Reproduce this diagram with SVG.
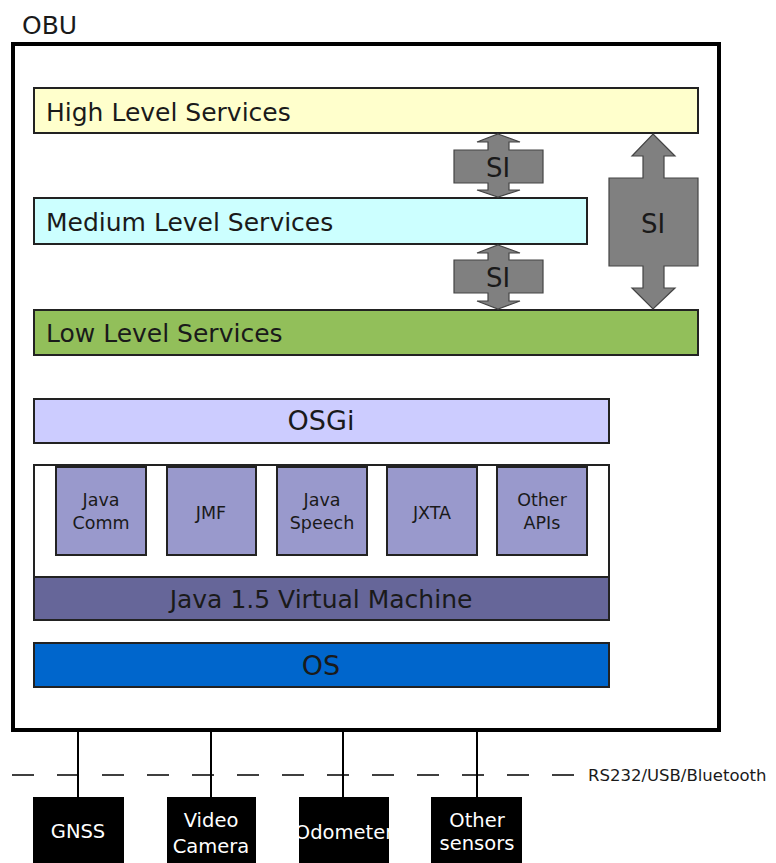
<svg xmlns="http://www.w3.org/2000/svg" width="776" height="863" viewBox="0 0 776 863">
<style>
  text { font-family: "DejaVu Sans", "Liberation Sans", sans-serif; fill: #1a1a1a; }
  .bar { stroke: #222; stroke-width: 2; }
  .api { fill: #9999cc; stroke: #222; stroke-width: 2; }
  .atxt { font-size: 17.5px; text-anchor: middle; }
  .si { fill: #808080; stroke: #444; stroke-width: 1.2; }
  .sensor { fill: #000; }
  .stxt { fill: #fff; font-size: 19.5px; text-anchor: middle; }
  .link { stroke: #000; stroke-width: 2; fill: none; }
  .big { font-size: 25px; }
  .mid { text-anchor: middle; }
</style>
<rect width="776" height="863" fill="#fff"/>
<g id="obu">
  <rect x="13" y="44" width="706" height="686" fill="#fff" stroke="#000" stroke-width="4"/>
  <text x="22" y="34" font-size="25">OBU</text>
</g>
<g id="high">
  <rect class="bar" x="34" y="88" width="664" height="45" fill="#ffffcc"/>
  <text class="big" x="46" y="121">High Level Services</text>
</g>
<g id="medium">
  <rect class="bar" x="34" y="198" width="553" height="46" fill="#ccffff"/>
  <text class="big" x="46" y="231">Medium Level Services</text>
</g>
<g id="low">
  <rect class="bar" x="34" y="310" width="664" height="45" fill="#92bf5a"/>
  <text class="big" x="46" y="342">Low Level Services</text>
</g>
<g id="si1">
  <path class="si" d="M498,134 L520,142 L509,142 L509,150 L543,150 L543,183 L509,183 L509,190 L520,190 L498,197 L477,190 L488,190 L488,183 L454,183 L454,150 L488,150 L488,142 L477,142 Z"/>
  <text class="mid" x="498" y="177" font-size="26">SI</text>
</g>
<g id="si2">
  <path class="si" d="M498,245 L520,253 L509,253 L509,260 L543,260 L543,293 L509,293 L509,301 L520,301 L498,309 L477,301 L488,301 L488,293 L454,293 L454,260 L488,260 L488,253 L477,253 Z"/>
  <text class="mid" x="498" y="287" font-size="26">SI</text>
</g>
<g id="si3">
  <path class="si" d="M653,134 L675,156 L664,156 L664,178 L698,178 L698,266 L664,266 L664,288 L675,288 L653,309 L632,288 L643,288 L643,266 L609,266 L609,178 L643,178 L643,156 L632,156 Z"/>
  <text class="mid" x="653" y="233" font-size="26">SI</text>
</g>
<g id="osgi">
  <rect class="bar" x="34" y="399" width="575" height="44" fill="#ccccff"/>
  <text class="mid" x="321" y="430" font-size="27">OSGi</text>
</g>
<g id="jvm">
  <rect class="bar" x="34" y="465" width="575" height="155" fill="#fff"/>
  <rect class="bar" x="34" y="577" width="575" height="43" fill="#666699"/>
  <text class="mid big" x="321" y="608">Java 1.5 Virtual Machine</text>
</g>
<g id="javacomm">
  <rect class="api" x="56" y="467" width="90" height="88"/>
  <text class="atxt" x="101" y="506">Java</text>
  <text class="atxt" x="101" y="529">Comm</text>
</g>
<g id="jmf">
  <rect class="api" x="167" y="467" width="89" height="88"/>
  <text class="atxt" x="211" y="519">JMF</text>
</g>
<g id="javaspeech">
  <rect class="api" x="277" y="467" width="90" height="88"/>
  <text class="atxt" x="322" y="506">Java</text>
  <text class="atxt" x="322" y="529">Speech</text>
</g>
<g id="jxta">
  <rect class="api" x="387" y="467" width="90" height="88"/>
  <text class="atxt" x="432" y="519">JXTA</text>
</g>
<g id="otherapis">
  <rect class="api" x="497" y="467" width="90" height="88"/>
  <text class="atxt" x="542" y="506">Other</text>
  <text class="atxt" x="542" y="529">APIs</text>
</g>
<g id="os">
  <rect class="bar" x="34" y="643" width="575" height="44" fill="#0066cc"/>
  <text class="mid" x="321" y="675" font-size="27">OS</text>
</g>
<g id="connectors">
  <line class="link" x1="78" y1="731" x2="78" y2="797"/>
  <line class="link" x1="211" y1="731" x2="211" y2="797"/>
  <line class="link" x1="343" y1="731" x2="343" y2="797"/>
  <line class="link" x1="477" y1="731" x2="477" y2="797"/>
  <line x1="12" y1="775" x2="575" y2="775" stroke="#000" stroke-width="1.5" stroke-dasharray="22,23"/>
  <text x="588" y="781" font-size="16.5">RS232/USB/Bluetooth</text>
</g>
<g id="gnss">
  <rect class="sensor" x="33" y="797" width="91" height="66"/>
  <text class="stxt" x="78" y="838">GNSS</text>
</g>
<g id="camera">
  <rect class="sensor" x="167" y="797" width="89" height="66"/>
  <text class="stxt" x="211" y="827">Video</text>
  <text class="stxt" x="211" y="853">Camera</text>
</g>
<g id="odometer">
  <rect class="sensor" x="299" y="797" width="90" height="66"/>
  <text class="stxt" x="344" y="839" font-size="16">Odometer</text>
</g>
<g id="othersensors">
  <rect class="sensor" x="431" y="797" width="91" height="66"/>
  <text class="stxt" x="477" y="827">Other</text>
  <text class="stxt" x="477" y="850">sensors</text>
</g>
</svg>
